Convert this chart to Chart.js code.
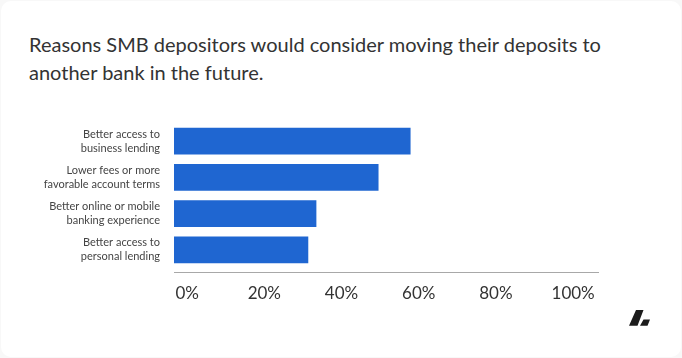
<!DOCTYPE html>
<html>
<head>
<meta charset="utf-8">
<script src="https://cdn.jsdelivr.net/npm/chart.js@4"></script>
<style>
    html, body { margin: 0; padding: 0; background: #f8f8f8; }
    #card { position: absolute; left: 1px; top: 1px; width: 680px; height: 356px; background: #fff; border-radius: 10px; }
    #title { position: absolute; left: 29px; top: 30px; margin: 0; font: 400 20px/28px Lato, sans-serif; color: #333; white-space: nowrap; }
    #logo { position: absolute; left: 0; top: 0; }
    canvas { position: absolute; left: 0; top: 0; }
</style>
</head>
<body>
<div id="card"></div>
<h1 id="title">Reasons SMB depositors would consider moving their deposits to<br>another bank in the future.</h1>
<canvas id="chart" width="682" height="358"></canvas>
<svg id="logo" width="682" height="358"><path fill="#1c1c1c" d="M636 310h7.5l-6 15.7H629zM643.5 319.5h6.5l-2.5 6.2H640z"/></svg>
<script>
    const categories = [
        ['Better access to', 'business lending'],
        ['Lower fees or more', 'favorable account terms'],
        ['Better online or mobile', 'banking experience'],
        ['Better access to', 'personal lending'],
    ];
    const values = [57.8, 49.5, 33.4, 31.3];
    const tickValues = [0, 20, 40, 60, 80, 100];

    // the axis starts a little left of 0%, bars grow from that edge
    const axisStart = -3.4;
    const axisEnd = 106.7;

    const axisLine = {
        id: 'axisLine',
        afterDraw(chart) {
            const context = chart.ctx;
            const y = chart.chartArea.bottom + 4.5;
            context.save();
            context.strokeStyle = '#a8a8a8';
            context.beginPath();
            context.moveTo(chart.chartArea.left, y);
            context.lineTo(chart.chartArea.right, y);
            context.stroke();
            context.restore();
        },
    };

    new Chart(document.getElementById('chart'), {
        type: 'bar',
        data: {
            labels: categories,
            datasets: [{
                data: values,
                base: axisStart,
                backgroundColor: '#1f66d1',
                barThickness: 26,
            }],
        },
        options: {
            indexAxis: 'y',
            responsive: false,
            animation: false,
            layout: { padding: { top: 123, right: 83 } },
            plugins: { legend: { display: false }, tooltip: { enabled: false } },
            scales: {
                x: {
                    min: axisStart,
                    max: axisEnd,
                    afterBuildTicks: (scale) => { scale.ticks = tickValues.map((value) => ({ value })); },
                    afterFit: (scale) => { scale.height = 90; },
                    border: { display: false },
                    grid: { display: false, drawTicks: false },
                    ticks: {
                        padding: 15,
                        maxRotation: 0,
                        autoSkip: false,
                        color: '#333',
                        font: { family: 'Lato', size: 17 },
                        callback: (value) => `${value}%`,
                    },
                },
                y: {
                    afterFit: (scale) => { scale.width = 174; },
                    border: { display: false },
                    grid: { display: false, drawTicks: false },
                    ticks: {
                        padding: 14,
                        autoSkip: false,
                        color: '#444',
                        font: { family: 'Lato', size: 11, lineHeight: 1.27 },
                    },
                },
            },
        },
        plugins: [axisLine],
    });
</script>
</body>
</html>
